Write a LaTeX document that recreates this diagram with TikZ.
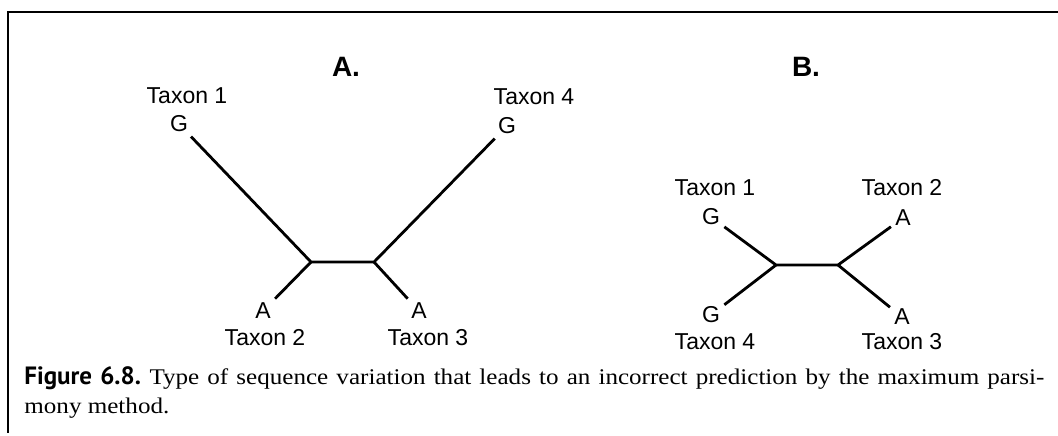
\documentclass[tikz,border=0pt]{standalone}
\usepackage{fontspec}
\setsansfont{Liberation Sans}
\newfontfamily\capfont[FakeStretch=1.12]{Liberation Serif}
\newfontfamily\capbold{PT Sans}
\usetikzlibrary{positioning}

\begin{document}
\begin{tikzpicture}[x=0.5pt,y=-0.5pt,
  branch/.style={line width=1.4pt},
  base/.style={font=\sffamily\fontsize{11.5}{12}\selectfont,inner sep=2pt},
  taxon/.style={font=\sffamily\fontsize{11.5}{12}\selectfont,inner sep=0pt},
  panel/.style={font=\sffamily\bfseries\fontsize{14}{16}\selectfont,inner sep=0pt}]
\useasboundingbox (0,0) rectangle (1058,435);
% frame
\draw[line width=1pt] (1058,12) -- (8,12) -- (8,433);

% tree A
\node[panel] (pA) at (346,67) {A.};
\coordinate (a12) at (311,262);
\coordinate (a34) at (374,262);
\node[base] (aG1) at (179,124) {G};
\node[base] (aA2) at (263,311) {A};
\node[base] (aA3) at (419,311) {A};
\node[base] (aG4) at (507,126) {G};
\node[taxon] (aT1) at (187,96) {Taxon 1};
\node[taxon] (aT2) at (265,338) {Taxon 2};
\node[taxon] (aT3) at (428,338) {Taxon 3};
\node[taxon] (aT4) at (534,97) {Taxon 4};
\draw[branch] (aG1) -- (a12) -- (a34) -- (aG4);
\draw[branch] (aA2) -- (a12);
\draw[branch] (aA3) -- (a34);

% tree B
\node[panel] (pB) at (806,67) {B.};
\coordinate (b14) at (776,265);
\coordinate (b23) at (838,265);
\node[base] (bG1) at (711,217) {G};
\node[base] (bA2) at (903,218) {A};
\node[base] (bA3) at (902,317) {A};
\node[base] (bG4) at (711,315) {G};
\node[taxon] (bT1) at (715,188) {Taxon 1};
\node[taxon] (bT2) at (902,188) {Taxon 2};
\node[taxon] (bT3) at (902,342) {Taxon 3};
\node[taxon] (bT4) at (715,342) {Taxon 4};
\draw[branch] (bG1) -- (b14) -- (b23) -- (bA2);
\draw[branch] (bG4) -- (b14);
\draw[branch] (bA3) -- (b23);

% caption
\node[anchor=base west,inner sep=0pt] (cap1) at (24,384)
  {\makebox[510pt][s]{{\capbold\bfseries\fontsize{12.5}{14}\selectfont Figure 6.8.}\ \capfont\fontsize{11.2}{14}\selectfont Type of sequence variation that leads to an incorrect prediction by the maximum parsi-}};
\node[anchor=base west,inner sep=0pt] (cap2) at (24,413)
  {\capfont\fontsize{11.2}{14}\selectfont mony method.};
\end{tikzpicture}
\end{document}
